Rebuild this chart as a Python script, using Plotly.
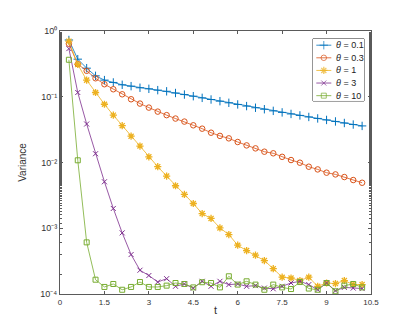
import plotly.graph_objects as go

t = [0.3, 0.6, 0.9, 1.2, 1.5, 1.8, 2.1, 2.4, 2.7, 3.0, 3.3, 3.6, 3.9, 4.2, 4.5, 4.8, 5.1,
     5.4, 5.7, 6.0, 6.3, 6.6, 6.9, 7.2, 7.5, 7.8, 8.1, 8.4, 8.7, 9.0, 9.3, 9.6, 9.9, 10.2]

var_theta_0_1 = [0.73, 0.373, 0.272, 0.208, 0.179, 0.165, 0.152, 0.145, 0.137, 0.132, 0.126, 0.121,
                 0.114, 0.108, 0.102, 0.0962, 0.0908, 0.0857, 0.0809, 0.0764, 0.0721, 0.068, 0.0646, 0.061,
                 0.0578, 0.0548, 0.052, 0.0493, 0.0468, 0.0444, 0.0421, 0.0399, 0.0378, 0.036]
var_theta_0_3 = [0.64, 0.313, 0.248, 0.191, 0.155, 0.130, 0.109, 0.0916, 0.0787, 0.0684, 0.0594, 0.0525,
                 0.0466, 0.0419, 0.0368, 0.0327, 0.0284, 0.0254, 0.0233, 0.0205, 0.0182, 0.0164, 0.0146, 0.0138,
                 0.0122, 0.0109, 0.00993, 0.00863, 0.00785, 0.0070, 0.00659, 0.00601, 0.00541, 0.00492]
var_theta_1 = [0.70, 0.31, 0.179, 0.116, 0.0769, 0.0525, 0.0363, 0.0251, 0.0178, 0.0122, 0.00863, 0.00622,
               0.00443, 0.00327, 0.00238, 0.00167, 0.00141, 0.00101, 0.000802, 0.000552, 0.000457, 0.000389,
               0.000322, 0.000243, 0.000180, 0.000175, 0.000160, 0.000180, 0.000131, 0.000147, 0.000144,
               0.000160, 0.000139, 0.000139]
var_theta_3 = [0.54, 0.116, 0.0385, 0.0136, 0.00509, 0.00200, 0.000851, 0.000398, 0.000230, 0.000191,
               0.000152, 0.000171, 0.000131, 0.000142, 0.000123, 0.000156, 0.000131, 0.000156, 0.000139,
               0.000142, 0.000131, 0.000134, 0.000123, 0.000120, 0.000131, 0.000147, 0.000156, 0.000139,
               0.000116, 0.000147, 0.000112, 0.000126, 0.000123, 0.000121]
var_theta_10 = [0.365, 0.0108, 0.00061, 0.000165, 0.000128, 0.000142, 0.000116, 0.000128, 0.000152, 0.000128,
                0.000128, 0.000134, 0.000147, 0.000142, 0.000126, 0.000151, 0.000147, 0.000126, 0.000186,
                0.000139, 0.000156, 0.000139, 0.000116, 0.000139, 0.000126, 0.000119, 0.000152, 0.000121,
                0.000116, 0.000147, 0.000110, 0.000134, 0.000142, 0.000126]

series_names = ["<i>θ</i> = 0.1", "<i>θ</i> = 0.3", "<i>θ</i> = 1", "<i>θ</i> = 3", "<i>θ</i> = 10"]
series_values = [var_theta_0_1, var_theta_0_3, var_theta_1, var_theta_3, var_theta_10]
colors = ["#0072BD", "#D95319", "#EDB120", "#7E2F8E", "#77AC30"]
symbols = ["cross-thin-open", "circle-open", "asterisk-open", "x-thin-open", "square-open"]
sizes = [6, 5.5, 6, 5, 5]
mwidths = [1, 1, 1.3, 1, 1]

x_ticks = [0, 1.5, 3, 4.5, 6, 7.5, 9, 10.5]
x_tick_labels = ["0", "1.5", "3", "4.5", "6", "7.5", "9", "10.5"]
y_ticks = [1e-4, 1e-3, 1e-2, 1e-1, 1]
y_tick_labels = ["10⁻⁴", "10⁻³", "10⁻²", "10⁻¹", "10⁰"]

FONT = "Liberation Sans, Arial, sans-serif"
AXC = "#5a5a5a"

fig = go.Figure()
for name, vals, c, s, sz, mw in zip(series_names, series_values, colors, symbols, sizes, mwidths):
    fig.add_trace(go.Scatter(
        x=t, y=vals, name=name, mode="lines+markers", showlegend=False,
        line=dict(color=c, width=0.8),
        marker=dict(symbol=s, size=sz, color=c, line=dict(color=c, width=mw)),
        xaxis="x", yaxis="y",
    ))

# Hand-built compact legend (MATLAB style) on an invisible overlay subplot
LEG_X = [0.8135, 0.9775]   # paper domain of the legend box
LEG_Y = [0.734, 0.970]
for i, (name, c, s, sz, mw) in enumerate(zip(series_names, colors, symbols, sizes, mwidths)):
    fig.add_trace(go.Scatter(
        x=[3.3, 10.8, 18.3], y=[i, i, i], mode="lines+markers", showlegend=False, hoverinfo="skip",
        line=dict(color=c, width=0.8),
        marker=dict(symbol=s, size=[0, sz, 0], color=c, line=dict(color=c, width=mw)),
        xaxis="x2", yaxis="y2",
    ))
    fig.add_annotation(
        x=21, y=i, xref="x2", yref="y2", text=name, showarrow=False,
        xanchor="left", yanchor="middle",
        font=dict(family=FONT, size=9, color="#222222"),
    )

fig.add_shape(
    type="rect", xref="paper", yref="paper",
    x0=LEG_X[0], x1=LEG_X[1], y0=LEG_Y[0], y1=LEG_Y[1],
    line=dict(color="#333333", width=1), fillcolor="white", layer="below",
)

axis_common = dict(
    showline=True, linecolor=AXC, linewidth=1, mirror="ticks",
    ticks="inside", tickcolor=AXC, ticklen=3, tickwidth=1,
    showgrid=False, zeroline=False,
)

fig.update_layout(
    width=402, height=322,
    margin=dict(l=52, r=39, t=23, b=36),
    paper_bgcolor="white", plot_bgcolor="white",
    showlegend=False,
    xaxis=dict(
        range=[0, 10.5], tickvals=x_ticks, ticktext=x_tick_labels,
        tickfont=dict(family=FONT, size=8, color="#333333"),
        title=dict(text="t", font=dict(family=FONT, size=11, color="#333333"), standoff=0),
        **axis_common,
    ),
    yaxis=dict(
        type="log", range=[-4, 0], tickvals=y_ticks, ticktext=y_tick_labels,
        tickfont=dict(family=FONT, size=9, color="#333333"),
        minor=dict(ticks="inside", ticklen=2, tickcolor=AXC, showgrid=False),
        title=dict(text="Variance", font=dict(family=FONT, size=10, color="#333333"), standoff=11),
        **axis_common,
    ),
    xaxis2=dict(domain=LEG_X, range=[0, 51], visible=False, anchor="y2", fixedrange=True),
    yaxis2=dict(domain=LEG_Y, range=[4.42, -0.5], visible=False, anchor="x2", fixedrange=True),
)

fig.write_html("out.html")
